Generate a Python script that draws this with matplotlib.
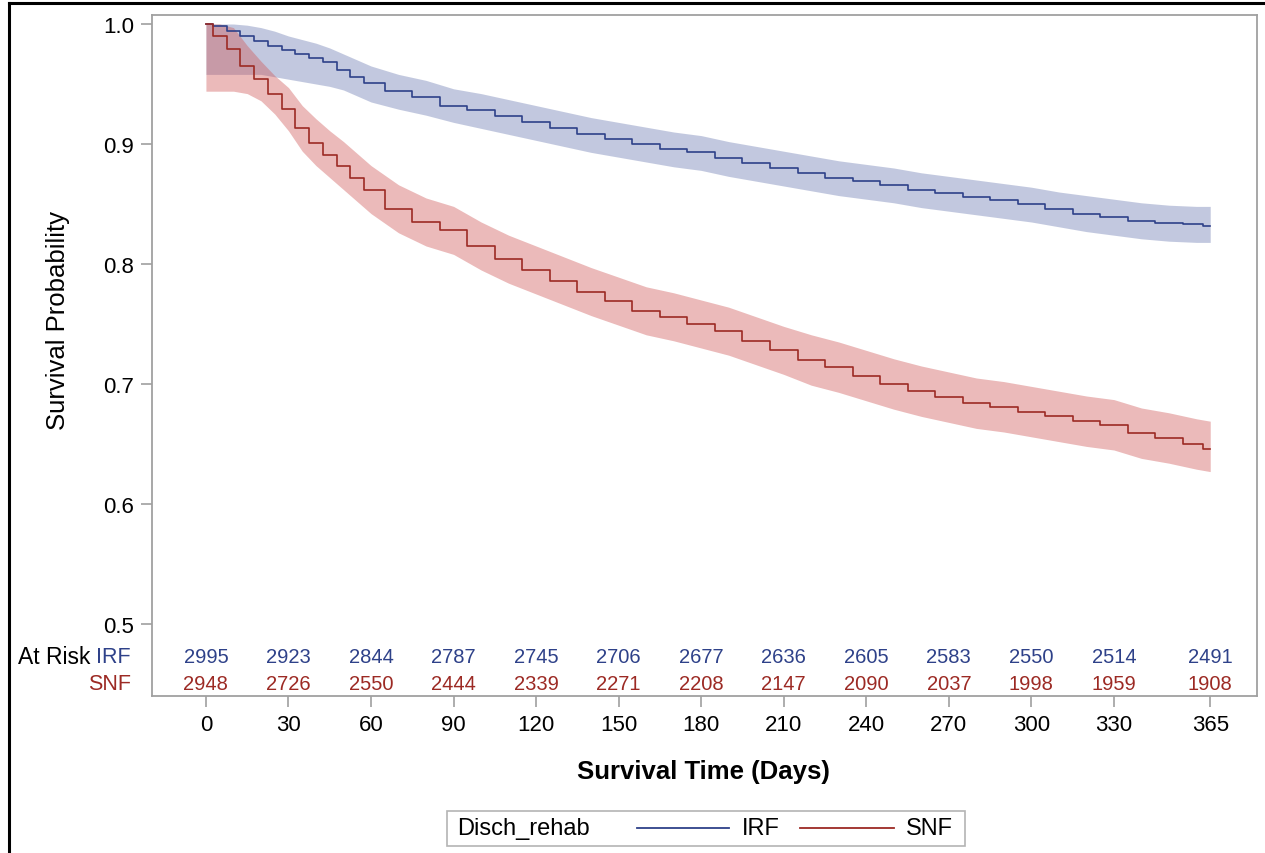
"""
Kaplan-Meier survival by discharge rehab setting (IRF vs SNF), with at-risk table.

Run:
    python plot.py

Output:
    out.png
"""

import matplotlib

matplotlib.use("Agg")
import matplotlib.pyplot as plt
import matplotlib.transforms as mtransforms
from matplotlib.lines import Line2D
from matplotlib.patches import Rectangle

plt.rcParams["font.family"] = ["Liberation Sans", "DejaVu Sans"]

# survival curves, days since discharge
DAYS = [0, 5, 10, 15, 20, 25, 30, 35, 40, 45, 50, 55, 60,
        70, 80, 90, 100, 110, 120, 130, 140, 150, 160, 170, 180,
        190, 200, 210, 220, 230, 240, 250, 260, 270, 280, 290, 300,
        310, 320, 330, 340, 350, 360, 365]

IRF_SURV = [1.000, 0.998, 0.994, 0.990, 0.986, 0.982, 0.978, 0.975, 0.972, 0.968, 0.962, 0.956, 0.951,
            0.944, 0.939, 0.932, 0.928, 0.923, 0.918, 0.913, 0.908, 0.904, 0.900, 0.896, 0.893,
            0.888, 0.884, 0.880, 0.876, 0.872, 0.869, 0.866, 0.862, 0.859, 0.856, 0.853, 0.850,
            0.846, 0.842, 0.839, 0.836, 0.834, 0.833, 0.832]
IRF_HI = [1.000, 1.000, 1.000, 0.999, 0.997, 0.994, 0.990, 0.987, 0.984, 0.980, 0.975, 0.970, 0.965,
          0.958, 0.953, 0.946, 0.942, 0.937, 0.932, 0.927, 0.922, 0.918, 0.914, 0.910, 0.907,
          0.902, 0.898, 0.894, 0.890, 0.886, 0.883, 0.880, 0.876, 0.873, 0.870, 0.867, 0.864,
          0.860, 0.857, 0.854, 0.851, 0.849, 0.848, 0.848]
IRF_LO = [0.958, 0.958, 0.958, 0.958, 0.958, 0.956, 0.954, 0.952, 0.950, 0.948, 0.945, 0.940, 0.935,
          0.929, 0.924, 0.918, 0.913, 0.908, 0.903, 0.898, 0.893, 0.889, 0.885, 0.881, 0.878,
          0.873, 0.869, 0.865, 0.861, 0.857, 0.854, 0.851, 0.847, 0.844, 0.841, 0.838, 0.835,
          0.831, 0.827, 0.824, 0.821, 0.819, 0.818, 0.818]

SNF_SURV = [1.000, 0.990, 0.979, 0.965, 0.954, 0.942, 0.929, 0.913, 0.901, 0.891, 0.882, 0.872, 0.862,
            0.846, 0.835, 0.828, 0.815, 0.804, 0.795, 0.786, 0.777, 0.769, 0.761, 0.756, 0.750,
            0.744, 0.736, 0.728, 0.720, 0.714, 0.707, 0.700, 0.694, 0.689, 0.684, 0.681, 0.677,
            0.673, 0.669, 0.666, 0.659, 0.655, 0.650, 0.646]
SNF_HI = [1.000, 1.000, 0.997, 0.982, 0.969, 0.957, 0.947, 0.932, 0.921, 0.911, 0.902, 0.892, 0.882,
          0.866, 0.855, 0.848, 0.835, 0.824, 0.815, 0.806, 0.797, 0.789, 0.781, 0.776, 0.770,
          0.764, 0.756, 0.748, 0.741, 0.735, 0.728, 0.721, 0.715, 0.710, 0.705, 0.702, 0.698,
          0.694, 0.690, 0.687, 0.680, 0.676, 0.671, 0.669]
SNF_LO = [0.944, 0.944, 0.944, 0.942, 0.936, 0.925, 0.911, 0.894, 0.882, 0.872, 0.862, 0.852, 0.842,
          0.826, 0.815, 0.808, 0.795, 0.784, 0.775, 0.766, 0.757, 0.749, 0.741, 0.736, 0.730,
          0.724, 0.716, 0.708, 0.699, 0.693, 0.686, 0.679, 0.673, 0.668, 0.663, 0.660, 0.656,
          0.652, 0.648, 0.645, 0.638, 0.634, 0.629, 0.627]

# at-risk table
TICK_DAYS = [0, 30, 60, 90, 120, 150, 180, 210, 240, 270, 300, 330, 365]
IRF_AT_RISK = [2995, 2923, 2844, 2787, 2745, 2706, 2677, 2636, 2605, 2583, 2550, 2514, 2491]
SNF_AT_RISK = [2948, 2726, 2550, 2444, 2339, 2271, 2208, 2147, 2090, 2037, 1998, 1959, 1908]

Y_TICKS = [0.5, 0.6, 0.7, 0.8, 0.9, 1.0]

IRF_LINE = "#2e4189"
SNF_LINE = "#9c2a24"
IRF_FILL = "#6f7eb3"
SNF_FILL = "#d05b5b"
FRAME_GRAY = "#a0a0a0"

W, H = 1265, 854


def fx(px: float) -> float:
    return px / W


def fy(py: float) -> float:
    return 1 - py / H


def main() -> None:
    fig = plt.figure(figsize=(W / 100, H / 100), dpi=100)
    ax = fig.add_axes([fx(152), fy(697), fx(1257) - fx(152), fy(16) - fy(697)])

    # bands are sampled coarser than the real KM steps, so draw them as a plain envelope
    ax.fill_between(DAYS, IRF_LO, IRF_HI, color=IRF_FILL, alpha=0.42, linewidth=0)
    ax.fill_between(DAYS, SNF_LO, SNF_HI, color=SNF_FILL, alpha=0.42, linewidth=0)
    ax.step(DAYS, IRF_SURV, where="mid", color=IRF_LINE, linewidth=1.2)
    ax.step(DAYS, SNF_SURV, where="mid", color=SNF_LINE, linewidth=1.2)

    ax.set_xlim(-19.6, 382)
    ax.set_ylim(0.44, 1.0075)

    ax.set_xticks(TICK_DAYS)
    ax.set_xticklabels([str(d) for d in TICK_DAYS])
    ax.set_yticks(Y_TICKS)
    ax.set_yticklabels([f"{v:.1f}" for v in Y_TICKS])
    ax.tick_params(labelsize=16, length=8, width=1.2, color=FRAME_GRAY, pad=5)
    for spine in ax.spines.values():
        spine.set_color(FRAME_GRAY)
        spine.set_linewidth(1.3)

    # at-risk rows sit inside the plot area, under 0.5
    irf_row, snf_row = 0.4729, 0.4508
    for d, n in zip(TICK_DAYS, IRF_AT_RISK):
        ax.text(d, irf_row, str(n), ha="center", va="center", color=IRF_LINE, fontsize=14.5)
    for d, n in zip(TICK_DAYS, SNF_AT_RISK):
        ax.text(d, snf_row, str(n), ha="center", va="center", color=SNF_LINE, fontsize=14.5)

    trans = mtransforms.blended_transform_factory(fig.transFigure, ax.transData)
    ax.text(fx(90), irf_row, "At Risk", transform=trans, ha="right", va="center", fontsize=16.5)
    ax.text(fx(131), irf_row, "IRF", transform=trans, ha="right", va="center", color=IRF_LINE, fontsize=15.5)
    ax.text(fx(131), snf_row, "SNF", transform=trans, ha="right", va="center", color=SNF_LINE, fontsize=15.5)

    fig.text(fx(58), fy(321), "Survival Probability", rotation=90, ha="center", va="center", fontsize=18.5)
    fig.text(fx(703), fy(772), "Survival Time (Days)", ha="center", va="center",
             fontsize=18.5, fontweight="bold")

    # legend box: title on the left, then the two groups
    yc = fy(829)
    fig.add_artist(Rectangle((fx(447), fy(847)), fx(965) - fx(447), fy(812) - fy(847),
                             transform=fig.transFigure, fill=False, edgecolor="#b4b4b4", linewidth=1.2))
    fig.text(fx(457), yc, "Disch_rehab", va="center", fontsize=17)
    fig.add_artist(Line2D([fx(637), fx(729)], [yc, yc], color=IRF_LINE, linewidth=1.3, transform=fig.transFigure))
    fig.text(fx(742), yc, "IRF", va="center", fontsize=17)
    fig.add_artist(Line2D([fx(800), fx(894)], [yc, yc], color=SNF_LINE, linewidth=1.3, transform=fig.transFigure))
    fig.text(fx(906), yc, "SNF", va="center", fontsize=17)

    # black frame of the original screenshot (left and top edges only)
    fig.add_artist(Line2D([fx(9), fx(9)], [0, fy(4)], color="black", linewidth=2.2, transform=fig.transFigure))
    fig.add_artist(Line2D([fx(9), 1], [fy(4), fy(4)], color="black", linewidth=2.2, transform=fig.transFigure))

    fig.savefig("out.png", dpi=100)
    plt.close(fig)


if __name__ == "__main__":
    main()
